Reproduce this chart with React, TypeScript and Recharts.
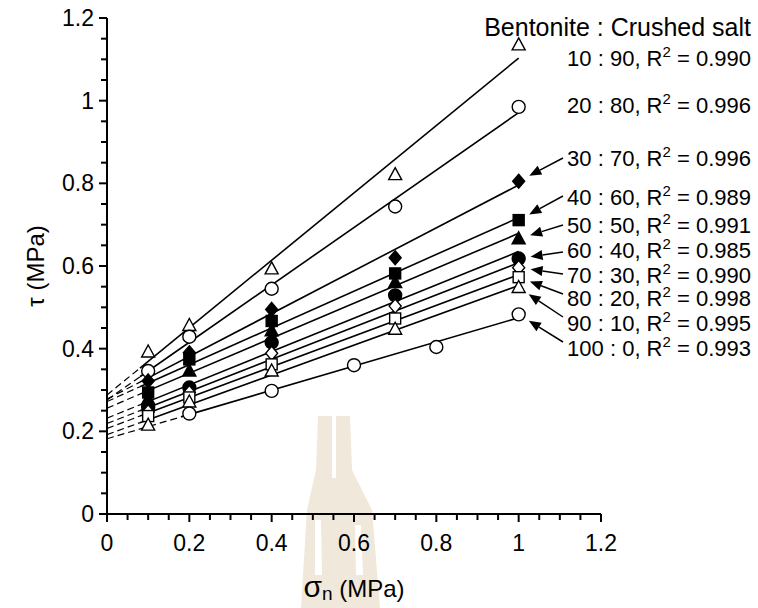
import { ScatterChart, Scatter, XAxis, YAxis } from 'recharts';

// normal stress (MPa) at which each mix was tested
const sigmaMixed = [0.1, 0.2, 0.4, 0.7, 1.0];
const sigmaPureBentonite = [0.2, 0.4, 0.6, 0.8, 1.0];

const tau10_90 = [0.392, 0.456, 0.593, 0.821, 1.135];
const tau20_80 = [0.346, 0.429, 0.545, 0.744, 0.985];
const tau30_70 = [0.322, 0.39, 0.495, 0.62, 0.805];
const tau40_60 = [0.294, 0.374, 0.467, 0.582, 0.711];
const tau50_50 = [0.278, 0.346, 0.443, 0.56, 0.666];
const tau60_40 = [0.258, 0.306, 0.415, 0.529, 0.618];
const tau70_30 = [0.247, 0.294, 0.389, 0.503, 0.596];
const tau80_20 = [0.237, 0.282, 0.362, 0.473, 0.573];
const tau90_10 = [0.215, 0.271, 0.346, 0.447, 0.548];
const tau100_0 = [0.243, 0.298, 0.36, 0.404, 0.483];

// fitted lines: value at sigma = 0, where the solid part starts, and at sigma = 1
const fitAt0 = [0.288, 0.276, 0.278, 0.272, 0.256, 0.232, 0.219, 0.207, 0.192, 0.182];
const fitStartX = [0.08, 0.08, 0.08, 0.08, 0.08, 0.08, 0.08, 0.08, 0.08, 0.18];
const fitAtStart = [0.353, 0.332, 0.319, 0.308, 0.29, 0.264, 0.25, 0.237, 0.221, 0.235];
const fitAt1 = [1.103, 0.971, 0.796, 0.717, 0.679, 0.635, 0.608, 0.579, 0.553, 0.475];

const mixRatios = ['10 : 90', '20 : 80', '30 : 70', '40 : 60', '50 : 50', '60 : 40', '70 : 30', '80 : 20', '90 : 10', '100 : 0'];
const r2Values = ['0.990', '0.996', '0.996', '0.989', '0.991', '0.985', '0.990', '0.998', '0.995', '0.993'];
const markerKinds = ['triOpen', 'circleOpen', 'diamondFill', 'squareFill', 'triFill', 'circleFill', 'diamondOpen', 'squareOpen', 'triOpen', 'circleOpen'];

const xTicks = [0, 0.05, 0.1, 0.15, 0.2, 0.25, 0.3, 0.35, 0.4, 0.45, 0.5, 0.55, 0.6, 0.65, 0.7, 0.75, 0.8, 0.85, 0.9, 0.95, 1, 1.05, 1.1, 1.15, 1.2];
const yTicks = [0, 0.05, 0.1, 0.15, 0.2, 0.25, 0.3, 0.35, 0.4, 0.45, 0.5, 0.55, 0.6, 0.65, 0.7, 0.75, 0.8, 0.85, 0.9, 0.95, 1, 1.05, 1.1, 1.15, 1.2];

const tauSeries = [tau10_90, tau20_80, tau30_70, tau40_60, tau50_50, tau60_40, tau70_30, tau80_20, tau90_10, tau100_0];
const sigmaSeries = tauSeries.map((_, i) => (i === 9 ? sigmaPureBentonite : sigmaMixed));

const W = 758;
const H = 608;
const PLOT_LEFT = 107;
const PLOT_RIGHT = 601;
const PLOT_TOP = 18;
const PLOT_BOTTOM = 514;
const FONT = '"Liberation Sans", Arial, sans-serif';

const sx = (v: number) => PLOT_LEFT + (v / 1.2) * (PLOT_RIGHT - PLOT_LEFT);
const sy = (v: number) => PLOT_BOTTOM - (v / 1.2) * (PLOT_BOTTOM - PLOT_TOP);

// label rows on the right (baselines) and where the arrows leave the text
const rowBaseline = [66, 113, 166, 205, 233, 258, 283, 306, 331, 356];
const arrowFromY: Record<number, number> = { 2: 158, 3: 196, 4: 225, 5: 252, 6: 274, 7: 294, 8: 317, 9: 342 };

const isMajor = (v: number) => Math.abs(v * 5 - Math.round(v * 5)) < 1e-6;

function Marker({ cx, cy, kind }: { cx: number; cy: number; kind: string }) {
  const open = kind.endsWith('Open');
  const fill = open ? '#fff' : '#000';
  const common = { fill, stroke: '#000', strokeWidth: 1.4 };
  if (kind.startsWith('tri')) {
    return <polygon points={`${cx},${cy - 7} ${cx + 6.5},${cy + 5} ${cx - 6.5},${cy + 5}`} {...common} />;
  }
  if (kind.startsWith('circle')) {
    return <circle cx={cx} cy={cy} r={6.5} {...common} />;
  }
  if (kind.startsWith('diamond')) {
    return <polygon points={`${cx},${cy - 7} ${cx + 6},${cy} ${cx},${cy + 7} ${cx - 6},${cy}`} {...common} />;
  }
  return <rect x={cx - 5.5} y={cy - 5.5} width={11} height={11} {...common} />;
}

function XTick(props: any) {
  const { x, payload } = props;
  const v = payload.value as number;
  const major = isMajor(v);
  return (
    <g>
      <line x1={x} x2={x} y1={PLOT_BOTTOM} y2={PLOT_BOTTOM + (major ? 8 : 6)} stroke="#000" strokeWidth={2} />
      {major && (
        <text x={x} y={551} textAnchor="middle" fontSize={23} fontFamily={FONT} fill="#000">
          {String(v)}
        </text>
      )}
    </g>
  );
}

function YTick(props: any) {
  const { y, payload } = props;
  const v = payload.value as number;
  const major = isMajor(v);
  return (
    <g>
      <line x1={PLOT_LEFT} x2={PLOT_LEFT - (major ? 8 : 6)} y1={y} y2={y} stroke="#000" strokeWidth={2} />
      {major && (
        <text x={PLOT_LEFT - 13} y={y + 8} textAnchor="end" fontSize={23} fontFamily={FONT} fill="#000">
          {String(v)}
        </text>
      )}
    </g>
  );
}

function Arrow({ x1, y1, x2, y2 }: { x1: number; y1: number; x2: number; y2: number }) {
  const len = Math.hypot(x2 - x1, y2 - y1);
  const ux = (x2 - x1) / len;
  const uy = (y2 - y1) / len;
  const bx = x2 - ux * 12;
  const by = y2 - uy * 12;
  const nx = -uy * 5;
  const ny = ux * 5;
  return (
    <g>
      <line x1={x1} y1={y1} x2={bx} y2={by} stroke="#000" strokeWidth={1.5} />
      <polygon points={`${x2},${y2} ${bx + nx},${by + ny} ${bx - nx},${by - ny}`} fill="#000" />
    </g>
  );
}

function Watermark() {
  const c = '#f0e8db';
  return (
    <svg width={W} height={H} style={{ position: 'absolute', left: 0, top: 0 }}>
      <polygon points="318,416 350,416 352,470 372,510 380,608 301,608 307,510 316,470" fill={c} />
      <rect x={332} y={416} width={4} height={62} fill="#fff" />
      <polygon points="315,520 321,520 322,575 315,575" fill="#fff" />
      <polygon points="355,525 361,525 363,575 356,575" fill="#fff" />
    </svg>
  );
}

function Annotations() {
  return (
    <svg width={W} height={H} style={{ position: 'absolute', left: 0, top: 0, pointerEvents: 'none' }} fontFamily={FONT}>
      <text x={751} y={36} textAnchor="end" fontSize={25}>
        Bentonite : Crushed salt
      </text>
      {mixRatios.map((ratio, i) => (
        <text key={ratio} x={751} y={rowBaseline[i]} textAnchor="end" fontSize={22}>
          {ratio}, R
          <tspan dy={-9} fontSize={15}>2</tspan>
          <tspan dy={9}> = {r2Values[i]}</tspan>
        </text>
      ))}
      {mixRatios.map((ratio, i) => {
        const fromY = arrowFromY[i];
        if (fromY === undefined) return null;
        const mx = sx(1);
        const my = sy(tauSeries[i][4]);
        const fx = 563;
        const len = Math.hypot(fx - mx, fromY - my);
        const tx = mx + ((fx - mx) / len) * 12;
        const ty = my + ((fromY - my) / len) * 12;
        return <Arrow key={ratio} x1={fx} y1={fromY} x2={tx} y2={ty} />;
      })}
      <text transform="translate(44,266) rotate(-90)" textAnchor="middle" fontSize={24}>
        τ (MPa)
      </text>
      <text x={354} y={597} textAnchor="middle" fontSize={24}>
        <tspan fontSize={30}>σ</tspan>
        <tspan fontSize={19} dy={3}>n</tspan>
        <tspan dy={-3}> (MPa)</tspan>
      </text>
    </svg>
  );
}

export default function App() {
  return (
    <div style={{ position: 'absolute', left: 0, top: 0, width: W, height: H, background: '#fff' }}>
      <Watermark />
      <div style={{ position: 'absolute', left: 0, top: 0 }}>
        <ScatterChart width={W} height={H} margin={{ top: PLOT_TOP, right: W - PLOT_RIGHT, bottom: 54, left: 47 }}>
          <XAxis
            type="number"
            dataKey="x"
            domain={[0, 1.2]}
            ticks={xTicks}
            interval={0}
            height={40}
            allowDataOverflow
            axisLine={{ stroke: '#000', strokeWidth: 2 }}
            tickLine={false}
            tick={(p: any) => <XTick {...p} />}
          />
          <YAxis
            type="number"
            dataKey="y"
            domain={[0, 1.2]}
            ticks={yTicks}
            interval={0}
            width={60}
            allowDataOverflow
            axisLine={{ stroke: '#000', strokeWidth: 2 }}
            tickLine={false}
            tick={(p: any) => <YTick {...p} />}
          />
          {tauSeries.map((_, i) => (
            <Scatter
              key={`dash-${i}`}
              data={[
                { x: 0, y: fitAt0[i] },
                { x: fitStartX[i], y: fitAtStart[i] },
              ]}
              line={{ stroke: '#000', strokeWidth: 1.2, strokeDasharray: '7 4' }}
              shape={() => <g />}
              isAnimationActive={false}
            />
          ))}
          {tauSeries.map((_, i) => (
            <Scatter
              key={`fit-${i}`}
              data={[
                { x: fitStartX[i], y: fitAtStart[i] },
                { x: 1, y: fitAt1[i] },
              ]}
              line={{ stroke: '#000', strokeWidth: 1.6 }}
              shape={() => <g />}
              isAnimationActive={false}
            />
          ))}
          {tauSeries.map((tau, i) => (
            <Scatter
              key={`pts-${i}`}
              data={tau.map((t, j) => ({ x: sigmaSeries[i][j], y: t }))}
              shape={(p: any) => <Marker cx={p.cx} cy={p.cy} kind={markerKinds[i]} />}
              isAnimationActive={false}
            />
          ))}
        </ScatterChart>
      </div>
      <Annotations />
    </div>
  );
}
